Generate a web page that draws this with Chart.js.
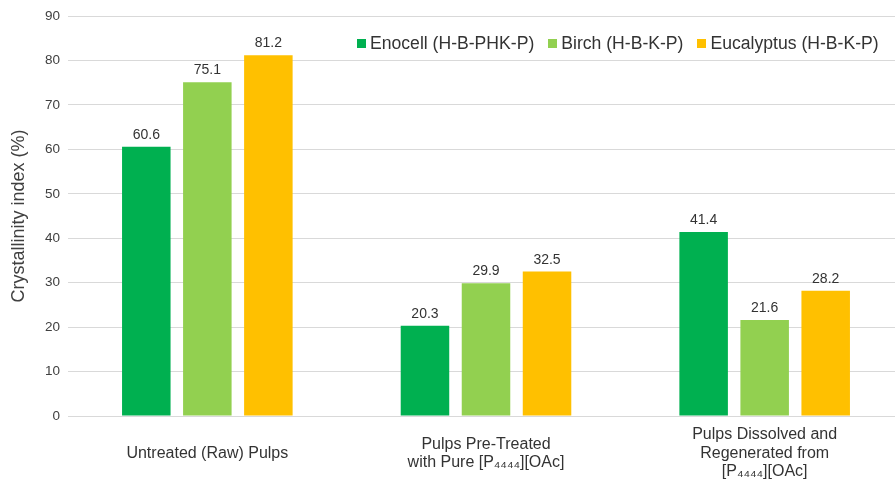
<!DOCTYPE html>
<html>
<head>
<meta charset="utf-8">
<script src="https://cdn.jsdelivr.net/npm/chart.js@4/dist/chart.umd.min.js"></script>
<style>
  html, body { margin: 0; padding: 0; background: #fff; overflow: hidden; }
  #wrap { position: relative; width: 904px; height: 480px; }
  #legend { position: absolute; left: 357px; top: 33px; display: flex; align-items: center;
            font-family: "Liberation Sans", Arial, sans-serif; font-size: 17.6px; line-height: 20px; color: #333333; }
  #legend .item { display: flex; align-items: center; margin-right: 14px; white-space: nowrap; }
  #legend .sw { width: 9px; height: 9px; margin-right: 4px; }
</style>
</head>
<body>
<div id="wrap">
  <canvas id="c"></canvas>
  <div id="legend"></div>
</div>
<script>
const categories = [
  ["Untreated (Raw) Pulps"],
  ["Pulps Pre-Treated", "with Pure [P\u2084\u2084\u2084\u2084][OAc]"],
  ["Pulps Dissolved and", "Regenerated from", "[P\u2084\u2084\u2084\u2084][OAc]"]
];
const seriesNames = ["Enocell (H-B-PHK-P)", "Birch (H-B-K-P)", "Eucalyptus (H-B-K-P)"];
const enocell = [60.6, 20.3, 41.4];
const birch = [75.1, 29.9, 21.6];
const eucalyptus = [81.2, 32.5, 28.2];
const seriesColors = ["#00B050", "#92D050", "#FFC000"];
const yTicks = [0, 10, 20, 30, 40, 50, 60, 70, 80, 90];
const yTitle = "Crystallinity index (%)";

const seriesValues = [enocell, birch, eucalyptus];
const datasets = seriesNames.map((n, i) => ({
  label: n,
  data: seriesValues[i],
  backgroundColor: seriesColors[i],
  borderWidth: 0,
  categoryPercentage: 0.657,
  barPercentage: 0.795
}));

const labelPlugin = {
  id: 'valueLabels',
  afterDatasetsDraw(chart) {
    const ctx = chart.ctx;
    ctx.save();
    ctx.font = '14px "Liberation Sans", Arial, sans-serif';
    ctx.fillStyle = '#333333';
    ctx.textAlign = 'center';
    ctx.textBaseline = 'alphabetic';
    chart.data.datasets.forEach((ds, di) => {
      const meta = chart.getDatasetMeta(di);
      meta.data.forEach((bar, i) => {
        ctx.fillText(ds.data[i].toFixed(1), bar.x, bar.y - 8);
      });
    });
    ctx.restore();
  }
};

const chart = new Chart(document.getElementById('c'), {
  type: 'bar',
  data: { labels: categories, datasets },
  options: {
    responsive: true,
    maintainAspectRatio: false,
    animation: false,
    layout: { padding: { top: 16, right: 0, left: 0, bottom: 0 } },
    plugins: { legend: { display: false }, tooltip: { enabled: false } },
    scales: {
      x: {
        afterFit(scale) { scale.height = 64; },
        grid: { display: false },
        border: { display: true, color: '#D9D9D9', width: 1 },
        ticks: {
          color: '#333333',
          font: { family: '"Liberation Sans", Arial, sans-serif', size: 16, lineHeight: 1.15 },
          padding: 11,
          crossAlign: 'center',
          maxRotation: 0,
          autoSkip: false
        }
      },
      y: {
        min: 0, max: 90,
        afterBuildTicks(scale) { scale.ticks = yTicks.map(v => ({ value: v })); },
        afterFit(scale) { scale.width = 68; },
        grid: { color: '#D9D9D9', lineWidth: 1, drawTicks: false },
        border: { display: false },
        ticks: {
          color: '#404040',
          font: { family: '"Liberation Sans", Arial, sans-serif', size: 13.5 },
          padding: 8
        },
        title: {
          display: true,
          text: yTitle,
          color: '#404040',
          font: { family: '"Liberation Sans", Arial, sans-serif', size: 18, lineHeight: 1.2 },
          padding: { top: 8, bottom: 0 }
        }
      }
    }
  },
  plugins: [labelPlugin]
});

const lg = document.getElementById('legend');
seriesNames.forEach((n, i) => {
  const it = document.createElement('div');
  it.className = 'item';
  const sw = document.createElement('span');
  sw.className = 'sw';
  sw.style.background = seriesColors[i];
  const t = document.createElement('span');
  t.textContent = n;
  it.appendChild(sw); it.appendChild(t);
  lg.appendChild(it);
});
</script>
</body>
</html>
